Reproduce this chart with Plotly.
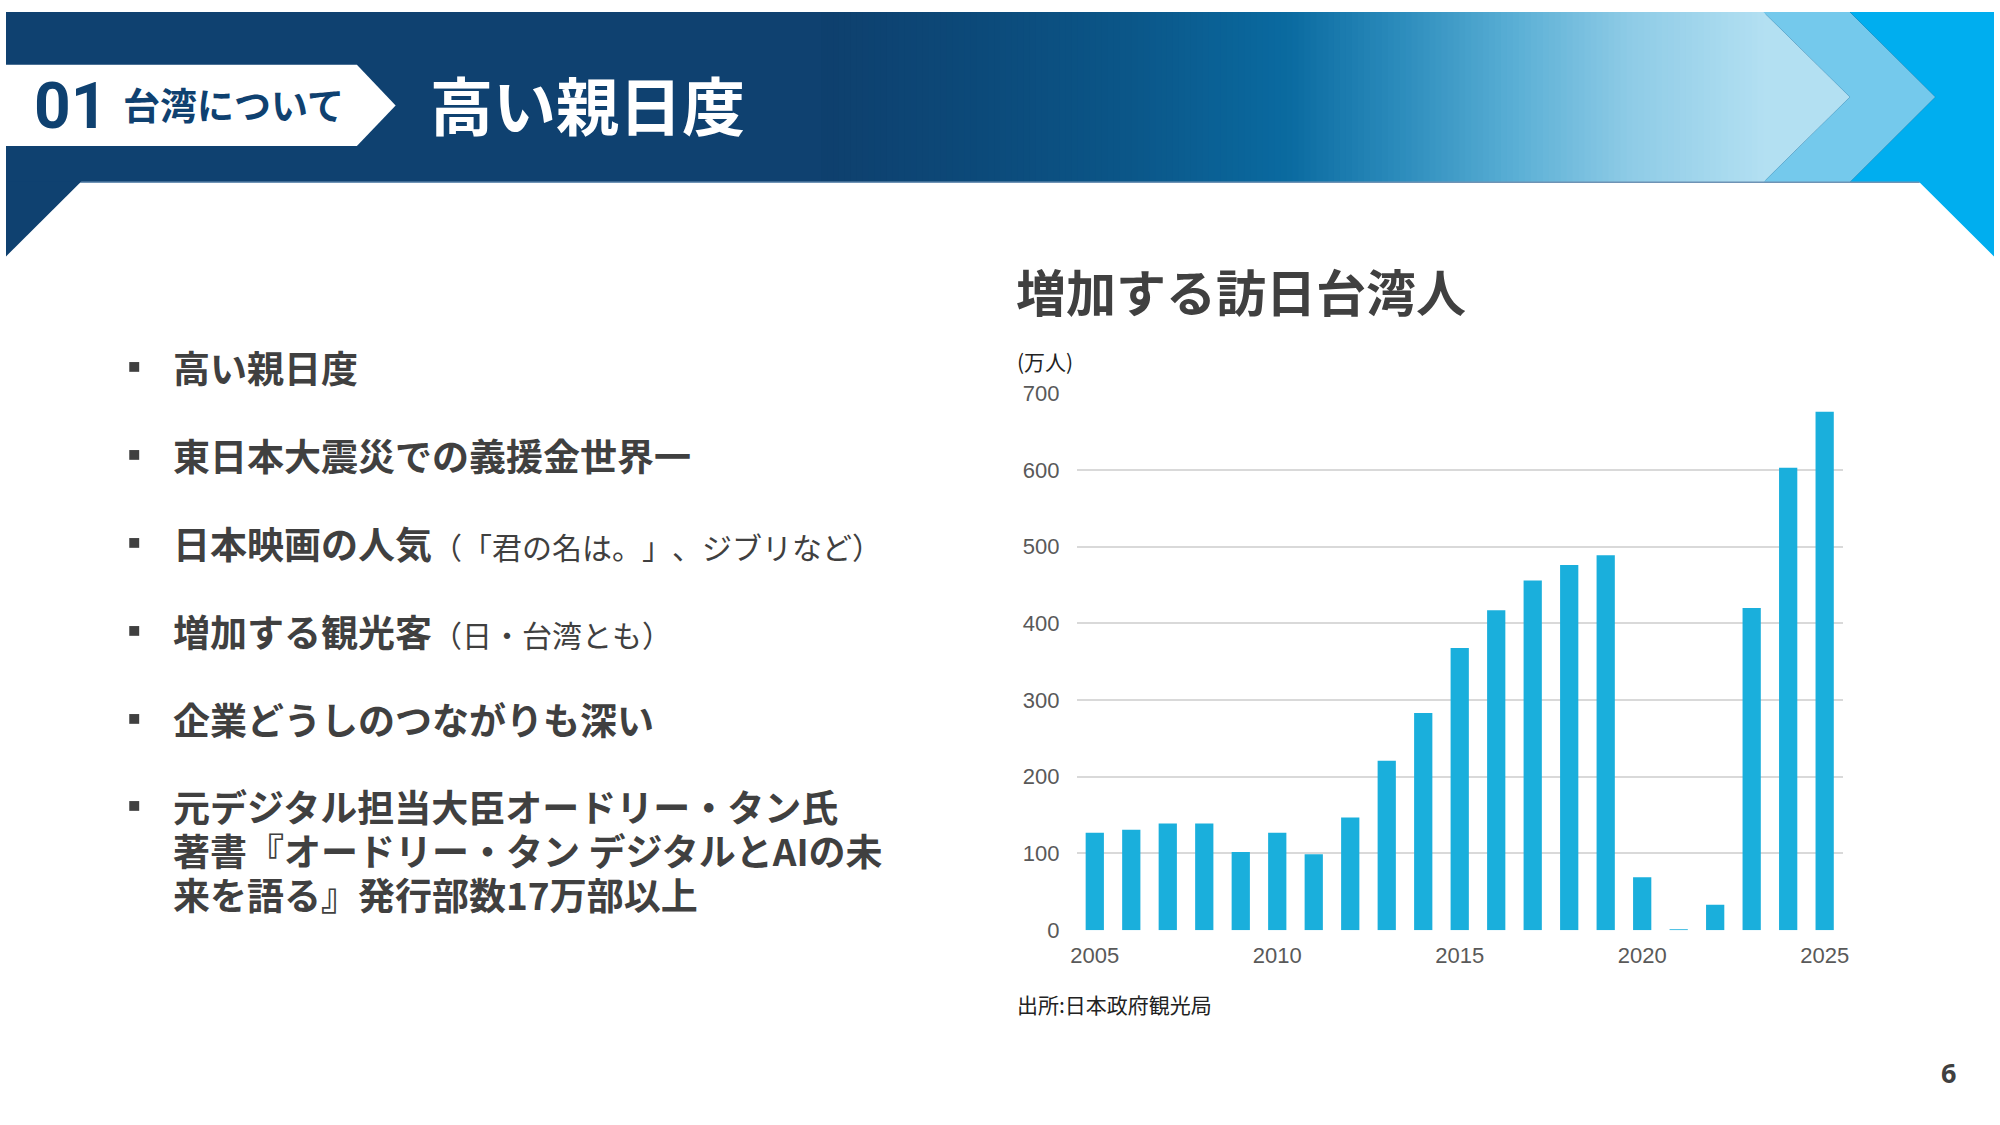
import plotly.graph_objects as go

# ---------------- data ----------------
years = list(range(2005, 2026))
visitors = [127, 131, 139, 139, 102, 127, 99, 147, 221, 283, 368, 417, 456, 476, 489, 69, 0.5, 33, 420, 603, 676]
x_tick_vals = [2005, 2010, 2015, 2020, 2025]
y_tick_vals = [0, 100, 200, 300, 400, 500, 600, 700]

section_no = "01"
section_name = "台湾について"
slide_title = "高い親日度"
chart_title = "増加する訪日台湾人"
unit_label = "(万人)"
source_label = "出所:日本政府観光局"
page_no = "6"
bullets = [
    [("高い親日度", "")],
    [("東日本大震災での義援金世界一", "")],
    [("日本映画の人気", "（「君の名は。」、ジブリなど）")],
    [("増加する観光客", "（日・台湾とも）")],
    [("企業どうしのつながりも深い", "")],
    [("元デジタル担当大臣オードリー・タン氏", ""),
     ("著書『オードリー・タン デジタルとAIの未", ""),
     ("来を語る』発行部数17万部以上", "")],
]

# ---------------- helpers ----------------
W, H = 2000, 1125
def px(x):
    return x / W
def py(y):
    return 1 - y / H

def poly(points, color):
    d = "M " + " L ".join(f"{px(x)},{py(y)}" for x, y in points) + " Z"
    return dict(type="path", xref="paper", yref="paper", path=d,
                fillcolor=color, line=dict(width=0), layer="above")

def hex2rgb(h):
    h = h.lstrip("#")
    return tuple(int(h[i:i + 2], 16) for i in (0, 2, 4))

NAVY = "#0f4170"
grad_stops = [(0, NAVY), (830, "#0e406e"), (983, "#0c4a7a"), (1135, "#0b5789"), (1289, "#0a6aa0"),
              (1403, "#2c8cbc"), (1518, "#5aafd5"), (1633, "#8ecbe6"), (1770, "#b3e0f2")]

def grad_color(x):
    for (x0, c0), (x1, c1) in zip(grad_stops[:-1], grad_stops[1:]):
        if x0 <= x <= x1:
            t = (x - x0) / (x1 - x0)
            a, b = hex2rgb(c0), hex2rgb(c1)
            return "rgb(%d,%d,%d)" % tuple(round(a[i] + (b[i] - a[i]) * t) for i in range(3))
    return grad_stops[-1][1]

TEXT = "#404040"
CJK = "Noto Sans CJK JP, Noto Sans, sans-serif"
LAT = "Liberation Sans, Arial, sans-serif"

shapes = []
# header band
shapes.append(dict(type="rect", xref="paper", yref="paper", x0=0, x1=1, y0=py(174), y1=1,
                   fillcolor=NAVY, line=dict(width=0), layer="above"))
step = 6
x = 820
while x < 1770:
    shapes.append(dict(type="rect", xref="paper", yref="paper", x0=px(x), x1=px(min(x + step + 1, 1770)),
                       y0=py(174), y1=1, fillcolor=grad_color(x + step / 2), line=dict(width=0), layer="above"))
    x += step
shapes.append(poly([(1768, 0), (1855, 87), (1768, 174)], "#b3e0f2"))
shapes.append(poly([(1768, 0), (1855, 0), (1941, 87), (1855, 174), (1768, 174), (1855, 87)], "#74c9ec"))
shapes.append(poly([(1855, 0), (2000, 0), (2000, 250), (1925, 174), (1855, 174), (1941, 87)], "#00aeef"))
# thin light line under band
shapes.append(dict(type="line", xref="paper", yref="paper", x0=px(75), x1=px(1925), y0=py(174), y1=py(174),
                   line=dict(color="#6f93b5", width=1.5), layer="above"))
# left triangle
shapes.append(poly([(0, 173), (76, 173), (0, 250)], NAVY))
# white label
shapes.append(poly([(0, 54), (353, 54), (392, 95.5), (353, 137), (0, 137)], "#ffffff"))

annotations = []
def ann(text, x, y, size, color=TEXT, family=CJK, xanchor="left"):
    annotations.append(dict(text=text, x=px(x), y=py(y), xref="paper", yref="paper",
                            xanchor=xanchor, yanchor="middle", showarrow=False, align="left",
                            font=dict(size=size, color=color, family=family)))

ann(f"<b>{section_no}</b>", 26, 97, 64, NAVY, "Liberation Sans Narrow, Roboto, " + LAT)
ann(f"<b>{section_name}</b>", 116, 94, 37, NAVY)
ann(f"<b>{slide_title}</b>", 425, 93, 63, "#ffffff")

# bullets
bullet_lines_y = [[363], [453], [543], [633], [723], [812, 857, 902]]
for item, ys in zip(bullets, bullet_lines_y):
    yb = ys[0]
    shapes.append(dict(type="rect", xref="paper", yref="paper", x0=px(124), x1=px(134),
                       y0=py(yb - 5), y1=py(yb + 5), fillcolor=TEXT, line=dict(width=0), layer="above"))
    for (bold, normal), yl in zip(item, ys):
        t = f"<b>{bold}</b>"
        if normal:
            t += f"<span style='font-size:30px;text-spacing-trim:space-all'>{normal}</span>"
        ann(t, 166, yl, 37)

ann(f"<b>{chart_title}</b>", 1014, 284, 50)
ann(unit_label, 1015, 357, 21, "#222222")
ann(source_label, 1015, 1015, 21, "#222222")
ann(f"<b>{page_no}</b>", 1954, 1085, 27, TEXT, "Open Sans, " + LAT, xanchor="center")

fig = go.Figure(go.Bar(x=years, y=visitors, marker=dict(color="#1AAFDC", line=dict(width=0)),
                       hoverinfo="x+y"))
fig.update_layout(
    width=W, height=H, margin=dict(l=0, r=0, t=0, b=0),
    paper_bgcolor="#ffffff", plot_bgcolor="#ffffff",
    bargap=0.5, showlegend=False,
    shapes=shapes, annotations=annotations,
    xaxis=dict(domain=[px(1077), px(1848)], range=[2004.5, 2025.5], tickvals=x_tick_vals,
               showgrid=False, zeroline=False, showline=False, ticks="",
               tickfont=dict(size=22, color="#595959", family=LAT), ticklabelstandoff=10),
    yaxis=dict(domain=[py(939), py(390)], range=[0, 700], tickvals=y_tick_vals,
               showgrid=True, gridcolor="#D9D9D9", gridwidth=2, zeroline=False, showline=False, ticks="",
               tickfont=dict(size=22, color="#595959", family=LAT), ticklabelstandoff=16),
)
fix_js = (
    "document.documentElement.style.margin='0px';document.documentElement.style.padding='0px';"
    "document.documentElement.style.overflow='hidden';"
    "document.body.style.margin='0px';document.body.style.padding='0px';document.body.style.overflow='hidden';"
    "var gd=document.getElementById('{plot_id}');gd.style.position='fixed';gd.style.left='0px';"
    "gd.style.top='0px';window.scrollTo(0,0);"
)
fig.write_html("out.html", config={"displayModeBar": False}, post_script=fix_js)
